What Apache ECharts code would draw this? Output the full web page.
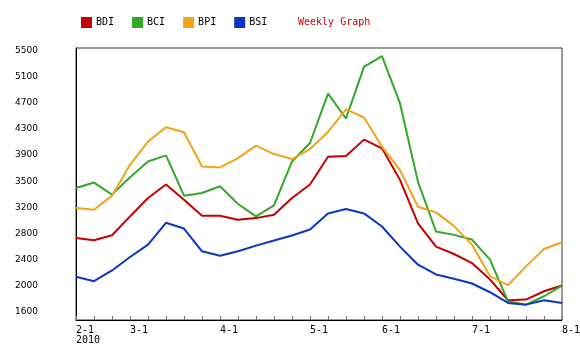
<!DOCTYPE html>
<html>
<head>
<meta charset="utf-8">
<script src="https://cdn.jsdelivr.net/npm/echarts@6/dist/echarts.min.js"></script>
<style>
html,body{margin:0;padding:0;background:#fff;}
#chart{width:580px;height:349px;}
</style>
</head>
<body>
<div id="chart"></div>
<script>
// Weekly positions (28 points, Feb 1 – Aug 1, 2010)
const weeks = ['W01','W02','W03','W04','W05','W06','W07','W08','W09','W10','W11','W12','W13','W14',
               'W15','W16','W17','W18','W19','W20','W21','W22','W23','W24','W25','W26','W27','W28'];
// Month tick labels and the week index where each is drawn
const monthLabels = ['2-1\n2010','3-1','4-1','5-1','6-1','7-1','8-1'];
const monthIndex = [0,3,8,13,17,22,27];
// Y-axis tick labels (as printed on the chart) and their positions
const yTickLabels = ['1600','2000','2400','2800','3200','3500','3900','4300','4700','5100','5500'];
const yTickValues = [1600,1990,2380,2770,3160,3550,3940,4330,4720,5110,5500];

const bdi = [2705,2670,2745,3025,3300,3500,3275,3035,3035,2975,3000,3050,3300,3500,
             3915,3925,4170,4040,3570,2920,2575,2465,2330,2085,1775,1785,1910,1995];
const bci = [3450,3530,3350,3610,3845,3935,3335,3375,3475,3210,3025,3190,3845,4120,
             4855,4485,5255,5415,4710,3540,2800,2750,2680,2380,1760,1710,1835,1995];
const bpi = [3150,3125,3335,3795,4140,4355,4280,3770,3755,3895,4080,3955,3880,4030,
             4285,4620,4500,4065,3715,3170,3085,2880,2605,2135,2000,2280,2540,2640];
const bsi = [2125,2060,2220,2420,2605,2930,2845,2505,2440,2505,2590,2665,2740,2830,
             3070,3135,3070,2875,2575,2305,2160,2095,2025,1895,1735,1710,1775,1735];

const colors = {BDI:'#c40000', BCI:'#33a828', BPI:'#f0a418', BSI:'#0a36c8'};

const chart = echarts.init(document.getElementById('chart'), null, {renderer:'canvas'});
function mk(name, data){
  return {name, type:'line', data, symbol:'none', smooth:false,
    lineStyle:{width:2, color:colors[name]}, itemStyle:{color:colors[name]}};
}
chart.setOption({
  animation:false,
  backgroundColor:'#fff',
  legend:{
    left:81, top:17, padding:0, itemWidth:11, itemHeight:11, itemGap:18,
    icon:'rect',
    textStyle:{fontFamily:'DejaVu Sans Mono', fontSize:10, color:'#000', padding:[0,0,0,-1]},
    data:['BDI','BCI','BPI','BSI']
  },
  graphic:[{type:'text', left:298, top:17,
    style:{text:'Weekly Graph', fill:'#cc0000', font:'10px "DejaVu Sans Mono"'}}],
  grid:{left:76, right:18, top:48, height:272, show:true, borderColor:'#333', borderWidth:1,
        backgroundColor:'transparent', outerBoundsMode:'none'},
  xAxis:{
    type:'category', data:weeks, boundaryGap:false,
    axisLine:{lineStyle:{color:'#000', width:1}},
    axisTick:{inside:true, length:4, interval:0, lineStyle:{color:'#777'}},
    axisLabel:{
      interval:0, align:'left', margin:5, lineHeight:10,
      fontFamily:'DejaVu Sans Mono', fontSize:10, color:'#000',
      formatter:(v,i)=>{ const k = monthIndex.indexOf(i); return k>=0 ? monthLabels[k] : ''; }
    },
    splitLine:{show:false}
  },
  yAxis:{
    type:'value', min:1481, max:5536,
    axisLine:{show:true, lineStyle:{color:'#000'}},
    axisTick:{show:false},
    splitLine:{show:false},
    axisLabel:{
      customValues:yTickValues, margin:38, align:'right',
      fontFamily:'DejaVu Sans', fontSize:9, color:'#000',
      formatter:(v)=>{ const k = yTickValues.indexOf(v); return k>=0 ? yTickLabels[k] : ''; }
    }
  },
  series:[mk('BDI',bdi), mk('BCI',bci), mk('BPI',bpi), mk('BSI',bsi)]
});
</script>
</body>
</html>
